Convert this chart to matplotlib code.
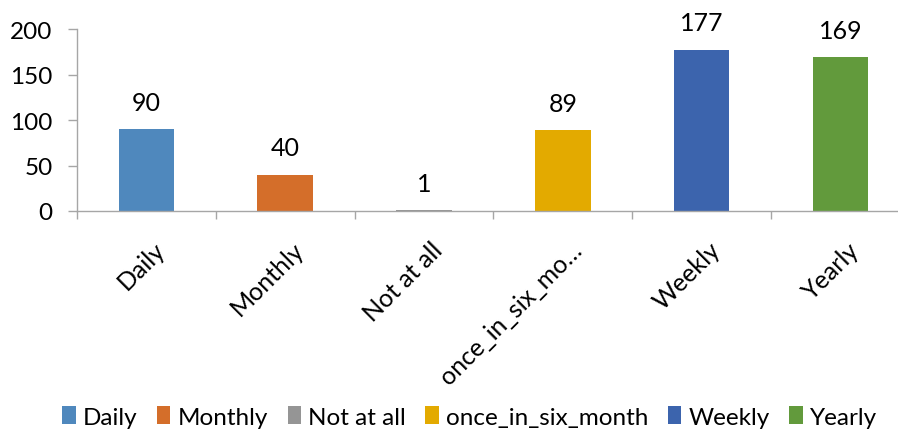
import matplotlib
matplotlib.use("Agg")
import matplotlib.pyplot as plt
import matplotlib.transforms as mtransforms
from matplotlib.patches import Patch

plt.rcParams['font.family'] = ['Lato', 'DejaVu Sans']

categories = ["Daily", "Monthly", "Not at all", "once_in_six_month", "Weekly", "Yearly"]
tick_labels = ["Daily", "Monthly", "Not at all", "once_in_six_mo\u2026", "Weekly", "Yearly"]
values = [90, 40, 1, 89, 177, 169]
colors = ["#4F88BD", "#D46E2A", "#959595", "#E3AA00", "#3C64AD", "#629A3C"]

W, H, DPI = 898, 431, 100
fig = plt.figure(figsize=(W / DPI, H / DPI), dpi=DPI)
ax = fig.add_axes([77 / W, (H - 212) / H, 832.8 / W, 182 / H])

x = list(range(len(categories)))
bars = ax.bar(x, values, width=0.40, color=colors, zorder=2)

ax.set_xlim(-0.5, len(categories) - 0.5)
ax.set_ylim(0, 200)
ax.set_yticks([0, 50, 100, 150, 200])

spine_col = "#A6A6A6"
for side in ("top", "right"):
    ax.spines[side].set_visible(False)
for side in ("left", "bottom"):
    ax.spines[side].set_color(spine_col)
    ax.spines[side].set_linewidth(1.0)

ax.tick_params(axis="y", direction="out", length=6.5, width=1.0, color=spine_col,
               pad=11, labelsize=17.5, labelcolor="black")

# category labels centred under each bar, boundary ticks between categories
ax.set_xticks(x)
ax.set_xticklabels(tick_labels, rotation=45, ha="right", va="top",
                   rotation_mode="anchor", fontsize=18)
ax.tick_params(axis="x", which="major", length=0, pad=19)
ax.set_xticks([i - 0.5 for i in range(len(categories) + 1)], minor=True)
ax.tick_params(axis="x", which="minor", direction="out", length=5.8, width=1.0,
               color=spine_col)
shift = mtransforms.ScaledTranslation(7 / DPI, 0, fig.dpi_scale_trans)
for lbl in ax.get_xticklabels():
    lbl.set_transform(lbl.get_transform() + shift)

for xi, v in zip(x, values):
    ax.annotate(str(v), (xi, v), xytext=(0, 27), textcoords="offset pixels",
                ha="center", va="center", fontsize=18, color="black")

handles = [Patch(facecolor=c, edgecolor="none") for c in colors]
fig.legend(handles, categories, loc="center", bbox_to_anchor=(0.523, (H - 418) / H),
           ncol=len(categories), frameon=False, fontsize=17.5,
           handlelength=0.55, handleheight=0.75, handletextpad=0.3,
           columnspacing=0.8, borderaxespad=0)

fig.savefig("out.png", dpi=DPI)
